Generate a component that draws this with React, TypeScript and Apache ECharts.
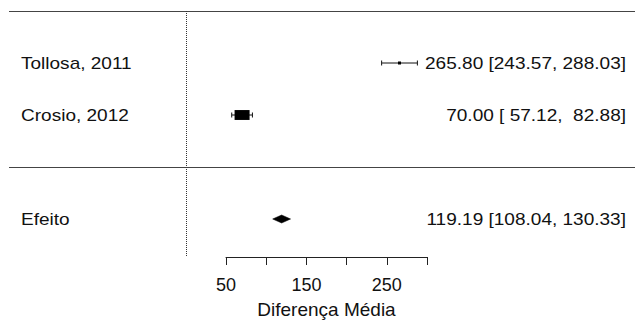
import React, { useEffect, useRef } from "react";
import * as echarts from "echarts";

const studies = ["Tollosa, 2011", "Crosio, 2012"];
const estimates = [265.8, 70.0];
const lowerCI = [243.57, 57.12];
const upperCI = [288.03, 82.88];
const weights = [25.1, 74.9];
const studyRows = [2, 1];
const ciLabels = ["265.80 [243.57, 288.03]", "70.00 [ 57.12,  82.88]"];

const summaryName = "Efeito";
const summaryEst = 119.19;
const summaryLower = 108.04;
const summaryUpper = 130.33;
const summaryRow = -1;
const summaryLabel = "119.19 [108.04, 130.33]";

const separatorRows = [3, 0];
const refValue = 0;
const refTop = 3;
const refBottom = -1.73;

const axisMin = 50;
const axisMax = 300;
const axisStep = 50;
const labelledTicks = [50, 150, 250];
const axisTitle = "Diferença Média";

const TXT = { fontFamily: "'Liberation Sans', Arial, sans-serif", fontSize: 17, fill: "#111" };
const SX = 1.12;

export default function App() {
  const ref = useRef<HTMLDivElement>(null);
  useEffect(() => {
    const chart = echarts.init(ref.current!, null, { renderer: "svg" });
    const wMin = Math.min(...weights);
    const wMax = Math.max(...weights);
    const studyData = studies.map((s, i) => [estimates[i], lowerCI[i], upperCI[i], studyRows[i], weights[i], i]);
    const option: any = {
      animation: false,
      backgroundColor: "#fff",
      grid: [
        { left: 9, right: 0, top: 11, height: 247 },
        { left: 226, width: 201, top: 200, bottom: 61 },
      ],
      xAxis: [
        { type: "value", gridIndex: 0, min: -219.9, max: 558.7, show: false },
        {
          type: "value",
          gridIndex: 1,
          min: axisMin,
          max: axisMax,
          interval: axisStep,
          splitLine: { show: false },
          axisLine: { show: true, lineStyle: { color: "#222", width: 1 } },
          axisTick: { show: true, length: 8, lineStyle: { color: "#222", width: 1 } },
          axisLabel: {
            margin: 19,
            color: "#111",
            fontFamily: "'Liberation Sans', Arial, sans-serif",
            fontSize: 18,
            formatter: (v: number) => (labelledTicks.includes(v) ? String(v) : ""),
          },
          name: axisTitle,
          nameLocation: "middle",
          nameGap: 43,
          nameTextStyle: { color: "#111", fontFamily: "'Liberation Sans', Arial, sans-serif", fontSize: 19 },
        },
      ],
      yAxis: [
        { type: "value", gridIndex: 0, min: -1.75, max: 3, show: false },
        { type: "value", gridIndex: 1, min: 0, max: 1, show: false },
      ],
      series: [
        {
          type: "custom",
          xAxisIndex: 0,
          yAxisIndex: 0,
          data: separatorRows.map((r) => [r]),
          renderItem: (params: any, api: any) => {
            const cs = params.coordSys;
            const [, y] = api.coord([0, api.value(0)]);
            const yy = Math.round(y) + 0.5;
            return {
              type: "line",
              shape: { x1: cs.x, y1: yy, x2: cs.x + cs.width, y2: yy },
              style: { stroke: "#444", lineWidth: 1 },
            };
          },
        },
        {
          type: "custom",
          xAxisIndex: 0,
          yAxisIndex: 0,
          data: [[refValue, refTop, refBottom]],
          renderItem: (params: any, api: any) => {
            const [x, y1] = api.coord([api.value(0), api.value(1)]);
            const [, y2] = api.coord([api.value(0), api.value(2)]);
            const xx = Math.round(x) + 0.5;
            return {
              type: "line",
              shape: { x1: xx, y1, x2: xx, y2 },
              style: { stroke: "#333", lineWidth: 1, lineDash: [1, 1] },
            };
          },
        },
        {
          type: "custom",
          xAxisIndex: 0,
          yAxisIndex: 0,
          data: studyData,
          renderItem: (params: any, api: any) => {
            const cs = params.coordSys;
            const idx = api.value(5);
            const [xe, y] = api.coord([api.value(0), api.value(3)]);
            const [xl] = api.coord([api.value(1), api.value(3)]);
            const [xh] = api.coord([api.value(2), api.value(3)]);
            const w = api.value(4);
            const s = 3 + ((w - wMin) / (wMax - wMin)) * 12;
            const h = Math.max(3, s * 0.66);
            const st = { stroke: "#111", lineWidth: 1 };
            return {
              type: "group",
              children: [
                { type: "line", shape: { x1: xl, y1: y, x2: xh, y2: y }, style: st },
                { type: "line", shape: { x1: xl, y1: y - 2.5, x2: xl, y2: y + 2.5 }, style: st },
                { type: "line", shape: { x1: xh, y1: y - 2.5, x2: xh, y2: y + 2.5 }, style: st },
                { type: "rect", shape: { x: xe - s / 2, y: y - h / 2, width: s, height: h }, style: { fill: "#000" } },
                {
                  type: "text",
                  x: cs.x + 12,
                  y,
                  scaleX: SX,
                  style: { ...TXT, text: studies[idx], align: "left", verticalAlign: "middle" },
                },
                {
                  type: "text",
                  x: cs.x + cs.width - 9,
                  y,
                  scaleX: SX,
                  style: { ...TXT, text: ciLabels[idx], align: "right", verticalAlign: "middle" },
                },
              ],
            };
          },
        },
        {
          type: "custom",
          xAxisIndex: 0,
          yAxisIndex: 0,
          data: [[summaryEst, summaryLower, summaryUpper, summaryRow]],
          renderItem: (params: any, api: any) => {
            const cs = params.coordSys;
            const [xe, y] = api.coord([api.value(0), api.value(3)]);
            const [xl] = api.coord([api.value(1), api.value(3)]);
            const [xh] = api.coord([api.value(2), api.value(3)]);
            return {
              type: "group",
              children: [
                {
                  type: "polygon",
                  shape: { points: [[xl, y], [xe, y - 4], [xh, y], [xe, y + 4]] },
                  style: { fill: "#000", stroke: "#000", lineWidth: 0.5 },
                },
                {
                  type: "text",
                  x: cs.x + 12,
                  y,
                  scaleX: SX,
                  style: { ...TXT, text: summaryName, align: "left", verticalAlign: "middle" },
                },
                {
                  type: "text",
                  x: cs.x + cs.width - 9,
                  y,
                  scaleX: SX,
                  style: { ...TXT, text: summaryLabel, align: "right", verticalAlign: "middle" },
                },
              ],
            };
          },
        },
      ],
    };
    chart.setOption(option);
    return () => chart.dispose();
  }, []);
  return <div ref={ref} style={{ position: "fixed", left: 0, top: 0, width: 635, height: 320 }} />;
}
